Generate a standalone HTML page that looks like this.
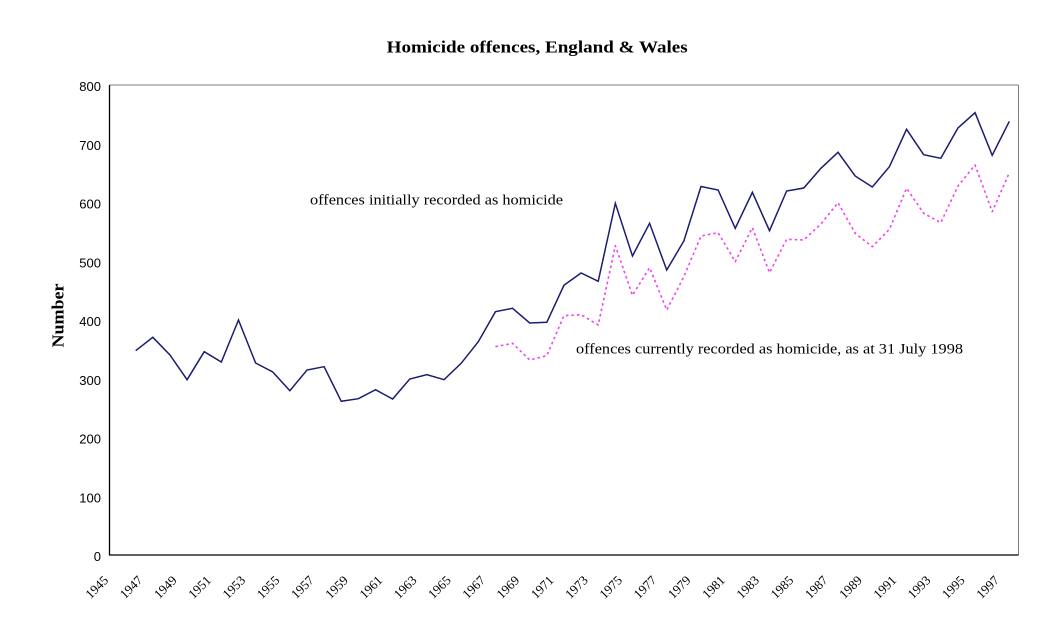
<!DOCTYPE html>
<html>
<head>
<meta charset="utf-8">
<style>
html,body{margin:0;padding:0;background:#fff;}
svg{display:block;}
</style>
</head>
<body>
<svg width="1049" height="626" viewBox="0 0 1049 626" xmlns="http://www.w3.org/2000/svg">
<rect x="0" y="0" width="1049" height="626" fill="#fff"/>
<!-- title -->
<text x="386.7" y="52.7" font-family="'Liberation Serif', serif" font-weight="bold" font-size="16.5" textLength="301" lengthAdjust="spacingAndGlyphs" fill="#000">Homicide offences, England &amp; Wales</text>
<!-- y axis title -->
<text transform="translate(63.5,315.5) rotate(-90)" text-anchor="middle" font-family="'Liberation Serif', serif" font-weight="bold" font-size="17" textLength="64" lengthAdjust="spacingAndGlyphs" fill="#000">Number</text>
<!-- frame -->
<line x1="109.5" y1="85" x2="1018.5" y2="85" stroke="#808080" stroke-width="1"/>
<line x1="1018.5" y1="85" x2="1018.5" y2="555" stroke="#808080" stroke-width="1"/>
<line x1="109.5" y1="85" x2="109.5" y2="555.5" stroke="#000" stroke-width="1.3"/>
<line x1="109" y1="555" x2="1018.5" y2="555" stroke="#000" stroke-width="1.3"/>
<!-- y labels -->
<g font-family="'Liberation Sans', sans-serif" font-size="13" fill="#000" text-anchor="end">
<text x="101" y="91">800</text>
<text x="101" y="149.75">700</text>
<text x="101" y="208.5">600</text>
<text x="101" y="267.25">500</text>
<text x="101" y="326">400</text>
<text x="101" y="384.75">300</text>
<text x="101" y="443.5">200</text>
<text x="101" y="502.25">100</text>
<text x="101" y="561">0</text>
</g>
<!-- x labels -->
<g font-family="'Liberation Serif', serif" font-size="13" fill="#000" text-anchor="end">
<text transform="translate(109.07,581) rotate(-45)">1945</text>
<text transform="translate(143.33,581) rotate(-45)">1947</text>
<text transform="translate(177.59,581) rotate(-45)">1949</text>
<text transform="translate(211.85,581) rotate(-45)">1951</text>
<text transform="translate(246.11,581) rotate(-45)">1953</text>
<text transform="translate(280.37,581) rotate(-45)">1955</text>
<text transform="translate(314.63,581) rotate(-45)">1957</text>
<text transform="translate(348.89,581) rotate(-45)">1959</text>
<text transform="translate(383.15,581) rotate(-45)">1961</text>
<text transform="translate(417.41,581) rotate(-45)">1963</text>
<text transform="translate(451.67,581) rotate(-45)">1965</text>
<text transform="translate(485.93,581) rotate(-45)">1967</text>
<text transform="translate(520.19,581) rotate(-45)">1969</text>
<text transform="translate(554.45,581) rotate(-45)">1971</text>
<text transform="translate(588.71,581) rotate(-45)">1973</text>
<text transform="translate(622.97,581) rotate(-45)">1975</text>
<text transform="translate(657.23,581) rotate(-45)">1977</text>
<text transform="translate(691.49,581) rotate(-45)">1979</text>
<text transform="translate(725.75,581) rotate(-45)">1981</text>
<text transform="translate(760.01,581) rotate(-45)">1983</text>
<text transform="translate(794.27,581) rotate(-45)">1985</text>
<text transform="translate(828.53,581) rotate(-45)">1987</text>
<text transform="translate(862.79,581) rotate(-45)">1989</text>
<text transform="translate(897.05,581) rotate(-45)">1991</text>
<text transform="translate(931.31,581) rotate(-45)">1993</text>
<text transform="translate(965.57,581) rotate(-45)">1995</text>
<text transform="translate(999.83,581) rotate(-45)">1997</text>
</g>
<!-- dotted series -->
<polyline fill="none" stroke="#f040f0" stroke-width="1.6" stroke-dasharray="2.5,3" stroke-linejoin="round" points="
495.43,346.7 512.56,343.3 529.69,360 546.82,355.7 563.95,315.7 581.08,314.7 598.21,325 615.34,245.7 632.47,295.3 649.6,267.7 666.73,310 683.86,276.7 700.99,236 718.12,232.7 735.25,261.7 752.38,227.7 769.51,272.7 786.64,239.3 803.77,240 820.9,224 838.03,202.7 855.16,233.3 872.29,246.7 889.42,229.3 906.55,188.3 923.68,213.3 940.81,222.7 957.94,186 975.07,165 992.2,211.7 1009.33,172.7"/>
<!-- solid series -->
<polyline fill="none" stroke="#1c1c70" stroke-width="1.5" stroke-linejoin="miter" points="
135.7,350.7 152.83,337.3 169.96,355 187.09,379.7 204.22,351.7 221.35,362 238.48,320 255.61,363 272.74,372 289.87,390.7 307,370 324.13,366.7 341.26,401.3 358.39,398.7 375.52,389.7 392.65,399 409.78,379 426.91,374.7 444.04,379.7 461.17,363.3 478.3,341.7 495.43,311.7 512.56,308.3 529.69,323 546.82,322.3 563.95,285.3 581.08,273 598.21,281.3 615.34,203.3 632.47,256 649.6,223.3 666.73,270 683.86,241 700.99,186.5 718.12,190 735.25,228.3 752.38,192.3 769.51,230.7 786.64,191 803.77,188 820.9,168.3 838.03,152.3 855.16,176 872.29,187 889.42,166.7 906.55,129.3 923.68,154.7 940.81,158.3 957.94,128 975.07,112.7 992.2,155.3 1009.33,121.3"/>
<!-- annotations -->
<text x="310" y="204.5" font-family="'Liberation Serif', serif" font-size="14.5" textLength="253" lengthAdjust="spacingAndGlyphs" fill="#000">offences initially recorded as homicide</text>
<text x="576" y="353.5" font-family="'Liberation Serif', serif" font-size="14.5" textLength="387" lengthAdjust="spacingAndGlyphs" fill="#000">offences currently recorded as homicide, as at 31 July 1998</text>
</svg>
</body>
</html>
